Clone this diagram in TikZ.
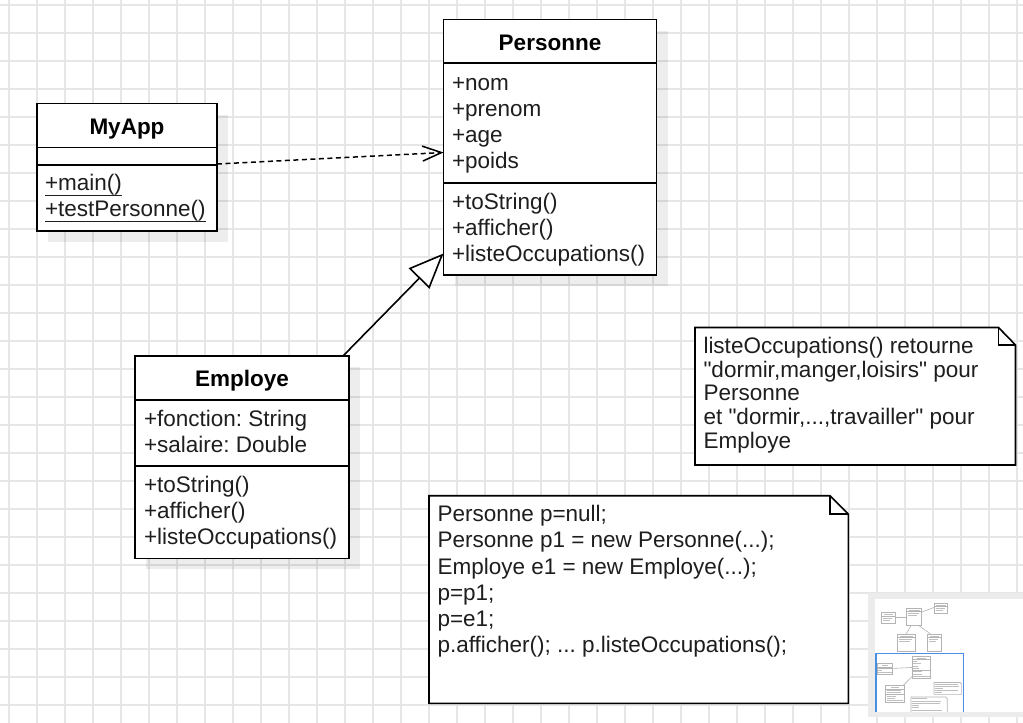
\documentclass[tikz,border=0pt]{standalone}
\usepackage{fontspec}
\setmainfont{Liberation Sans}
\usetikzlibrary{arrows.meta,shadows}
\definecolor{gridc}{HTML}{E6E6E6}
\definecolor{ink}{HTML}{1E1E1E}
\definecolor{mmpanel}{HTML}{ECECEC}
\definecolor{mmblue}{HTML}{4A90E2}
\definecolor{mmgray}{HTML}{B4B4B4}
\frenchspacing
\tikzset{
  gridline/.style={draw=gridc, line width=1.4pt},
  umlbox/.style={draw=black, fill=white, line width=1.6pt, anchor=north west, inner sep=0pt, outer sep=0pt,
    drop shadow={shadow xshift=11pt, shadow yshift=-11pt, fill=black, opacity=0.07}},
  sepline/.style={draw=black, line width=1.6pt},
  member/.style={anchor=base west, inner sep=0pt, outer sep=0pt, text=ink, font=\fontsize{22.5pt}{26pt}\selectfont},
  classname/.style={anchor=base, inner sep=0pt, outer sep=0pt, text=black, font=\bfseries\fontsize{22.5pt}{26pt}\selectfont},
  ul/.style={draw=ink, line width=1.2pt},
  notebox/.style={draw=black, fill=white, line width=1.6pt, line join=miter},
  foldline/.style={draw=black, line width=1.6pt},
  dep/.style={draw=black, line width=1.5pt, dash pattern=on 5pt off 3.5pt,
    -{Straight Barb[length=19pt,width=15pt,line width=1.5pt]}},
  gen/.style={draw=black, line width=1.6pt, -{Triangle[length=35pt,width=29pt,fill=white,line width=1.6pt]}},
  minibox/.style={draw=mmgray, fill=white, line width=0.7pt},
  minism/.style={draw=mmgray!85, line width=0.8pt},
  minisep/.style={draw=mmgray, line width=0.5pt},
  miniline/.style={draw=mmgray, line width=0.6pt},
}
\newcommand{\minib}[4]{%
  \draw[minibox] (#1,#2) rectangle (#3,#4);
  \draw[minism] ({#1+2},{#2+1.8}) -- ({#3-2},{#2+1.8});
  \draw[minisep] (#1,{#2+3.3}) -- (#3,{#2+3.3});
  \draw[minism] ({#1+1.5},{#2+5.2}) -- ({#3-3},{#2+5.2});
  \draw[minism] ({#1+1.5},{#2+7.2}) -- ({#3-5},{#2+7.2});
}
\newcommand{\dq}{\textquotedbl}
\begin{document}
\begin{tikzpicture}[x=1pt,y=-1pt]
\useasboundingbox (0,0) rectangle (1023,723);
\fill[white] (0,0) rectangle (1023,723);
% grid
\foreach \i in {0,...,36} \draw[gridline] ({9+28*\i},0) -- ({9+28*\i},723);
\foreach \j in {0,...,25} \draw[gridline] (0,{5+28*\j}) -- (1023,{5+28*\j});

% ---- MyApp
\node[umlbox, minimum width=180pt, minimum height=127.5pt] (myapp) at (37,103.5) {};
\draw[sepline] ([yshift=-43.8pt]myapp.north west) -- ([yshift=-43.8pt]myapp.north east);
\draw[sepline] ([yshift=-61.5pt]myapp.north west) -- ([yshift=-61.5pt]myapp.north east);
\node[classname] (myappT) at (127,134) {MyApp};
\node[member] (myappM1) at (45,190.5) {+main()};
\node[member] (myappM2) at (45,216.5) {+testPersonne()};
\draw[ul] ([yshift=-5pt]myappM1.base west) -- ([yshift=-5pt]myappM1.base east);
\draw[ul] ([yshift=-5pt]myappM2.base west) -- ([yshift=-5pt]myappM2.base east);

% ---- Personne
\node[umlbox, minimum width=213pt, minimum height=255.5pt] (personne) at (443.5,19.5) {};
\draw[sepline] ([yshift=-43.2pt]personne.north west) -- ([yshift=-43.2pt]personne.north east);
\draw[sepline] ([yshift=-163.2pt]personne.north west) -- ([yshift=-163.2pt]personne.north east);
\node[classname] (personneT) at (550,50) {Personne};
\node[member] (pA1) at (452,90) {+nom};
\node[member] (pA2) at (452,116) {+prenom};
\node[member] (pA3) at (452,142) {+age};
\node[member] (pA4) at (452,168) {+poids};
\node[member] (pM1) at (452,209) {+toString()};
\node[member] (pM2) at (452,235) {+afficher()};
\node[member] (pM3) at (452,261) {+listeOccupations()};

% ---- Employe
\node[umlbox, minimum width=214pt, minimum height=202.6pt] (employe) at (135,355.7) {};
\draw[sepline] ([yshift=-44.3pt]employe.north west) -- ([yshift=-44.3pt]employe.north east);
\draw[sepline] ([yshift=-110.3pt]employe.north west) -- ([yshift=-110.3pt]employe.north east);
\node[classname] (employeT) at (242,386) {Employe};
\node[member] (eA1) at (144,426) {+fonction: String};
\node[member] (eA2) at (144,452) {+salaire: Double};
\node[member] (eM1) at (144,492) {+toString()};
\node[member] (eM2) at (144,518) {+afficher()};
\node[member] (eM3) at (144,544) {+listeOccupations()};

% ---- connectors
\draw[dep] ([yshift=-60.5pt]myapp.north east) -- ([yshift=-133pt]personne.north west);
\draw[gen] ([xshift=208.3pt]employe.north west) -- ([yshift=-234pt]personne.north west);

% ---- Note 1
\draw[notebox] (695,327.5) -- (998.5,327.5) -- (1015.5,345) -- (1015.5,465) -- (695,465) -- cycle;
\draw[foldline] (998.5,327.5) -- (998.5,345) -- (1015.5,345);
\node[member] (n1a) at (703.5,353.3) {listeOccupations() retourne};
\node[member] (n1b) at (703.5,377) {\dq dormir,manger,loisirs\dq{} pour};
\node[member] (n1c) at (703.5,400.7) {Personne};
\node[member] (n1d) at (703.5,424.4) {et \dq dormir,...,travailler\dq{} pour};
\node[member] (n1e) at (703.5,448.1) {Employe};

% ---- Note 2
\draw[notebox] (429,495.7) -- (830,495.7) -- (848.3,514) -- (848.3,703.3) -- (429,703.3) -- cycle;
\draw[foldline] (830,495.7) -- (830,514) -- (848.3,514);
\node[member] (n2a) at (437.5,521.7) {Personne p=null;};
\node[member] (n2b) at (437.5,547.9) {Personne p1 = new Personne(...);};
\node[member] (n2c) at (437.5,574.1) {Employe e1 = new Employe(...);};
\node[member] (n2d) at (437.5,600.3) {p=p1;};
\node[member] (n2e) at (437.5,626.5) {p=e1;};
\node[member] (n2f) at (437.5,652.7) {p.afficher(); ... p.listeOccupations();};

% ---- minimap
\fill[mmpanel] (868,592.5) rectangle (1023,717);
\fill[white] (875,599) rectangle (1023,711.5);
% upper mini diagram
\draw[miniline] (895,617.5) -- (906.7,617.5);
\draw[miniline] (921.7,612) -- (934,607.5);
\draw[miniline] (906,634.3) -- (911,625.7);
\draw[miniline] (931,634.3) -- (919,625.7);
\minib{881.7}{612.7}{895}{623.3}
\minib{906.7}{608.3}{921.7}{625.7}
\minib{934}{603.3}{947.7}{613.3}
\minib{897.7}{634.3}{915}{651}
\minib{927.7}{634.3}{941}{651}
% lower mini diagram (scaled copy of the main view)
\begin{scope}
\clip (875,599) rectangle (1023,711.5);
\begin{scope}[shift={(874.1,654.3)}, scale=0.0862]
  \draw[miniline] (217,164) -- (443.5,152.5);
  \draw[miniline] (343.3,355.7) -- (443.5,253.5);
  \draw[minibox] (37,103.5) rectangle (217,231);
  \draw[minisep] (37,147.3) -- (217,147.3);
  \draw[minisep] (37,165) -- (217,165);
  \draw[minibox] (443.5,19.5) rectangle (656.5,275);
  \draw[minisep] (443.5,62.7) -- (656.5,62.7);
  \draw[minisep] (443.5,182.7) -- (656.5,182.7);
  \draw[minibox] (135,355.7) rectangle (349,558.3);
  \draw[minisep] (135,400) -- (349,400);
  \draw[minisep] (135,466) -- (349,466);
  \draw[minibox] (695,327.5) -- (998.5,327.5) -- (1015.5,345) -- (1015.5,465) -- (695,465) -- cycle;
  \draw[minibox] (429,495.7) -- (830,495.7) -- (848.3,514) -- (848.3,703.3) -- (429,703.3) -- cycle;
  \foreach \x/\y/\w in {89/134/76, 45/190/48, 45/216/163,
      499/50/102, 452/90/50, 452/116/90, 452/142/55, 452/168/67, 452/209/105, 452/235/98, 452/261/194,
      196/386/92, 144/426/163, 144/452/163, 144/492/105, 144/518/98, 144/544/194,
      704/353/272, 704/377/278, 704/401/98, 704/424/272, 704/448/85,
      438/522/170, 438/548/340, 438/574/322, 438/600/80, 438/626/80, 438/653/352}
    \draw[minism] (\x,{\y-7}) -- ({\x+\w},{\y-7});
\end{scope}
\end{scope}
\draw[mmblue, line width=1.5pt] (876,712) -- (876,653.5) -- (963.5,653.5) -- (963.5,712);
\end{tikzpicture}
\end{document}
